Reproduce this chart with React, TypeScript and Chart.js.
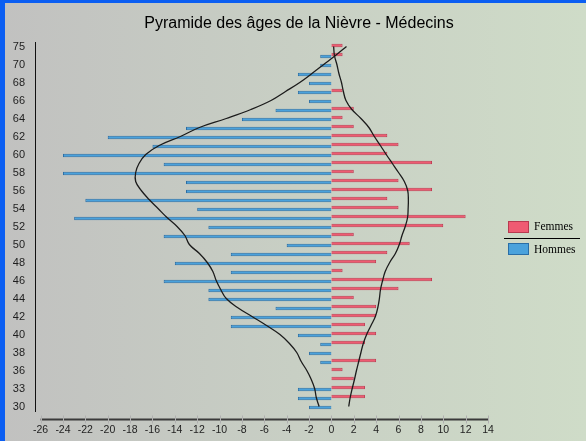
import React, { useEffect, useRef } from 'react';
import { Chart, registerables } from 'chart.js';

Chart.register(...registerables);

const chartTitle = 'Pyramide des âges de la Nièvre - Médecins';

// Age categories, top to bottom
const ages = ['75', '72', '70', '69', '68', '67', '66', '65', '64', '63', '62', '61', '60', '59', '58', '57', '56', '55', '54', '53', '52', '51', '50', '49', '48', '47', '46', '45', '44', '43', '42', '41', '40', '39', '38', '37', '36', '34', '33', '31', '30'];

const femmes = [1, 1, 0, 0, 0, 1, 0, 2, 1, 2, 5, 6, 5, 9, 2, 6, 9, 5, 6, 12, 10, 2, 7, 5, 4, 1, 9, 6, 2, 4, 4, 3, 4, 3, 0, 4, 1, 2, 3, 3, 0];

const hommes = [0, -1, -1, -3, -2, -3, -2, -5, -8, -13, -20, -16, -24, -15, -24, -13, -13, -22, -12, -23, -11, -15, -4, -9, -14, -9, -15, -11, -11, -5, -9, -9, -3, -1, -2, -1, 0, 0, -3, -3, -2];

const courbeHommes = [1.35, 0.36, -0.69, -1.74, -2.83, -4.1, -5.4, -7.2, -9.4, -11.8, -13.5, -15.4, -16.6, -17.2, -17.5, -17.5, -17.0, -16.3, -15.5, -14.7, -13.8, -13.1, -12.7, -11.8, -11.1, -10.6, -10.3, -9.9, -9.4, -8.4, -7.1, -5.8, -4.6, -3.75, -3.1, -2.7, -2.2, -1.8, -1.5, -1.35, -1.1];

const courbeFemmes = [0.2, 0.27, 0.49, 0.67, 0.9, 1.07, 1.3, 1.83, 2.64, 3.35, 3.84, 4.38, 4.9, 5.45, 6.0, 6.52, 6.82, 6.88, 6.86, 6.81, 6.6, 6.31, 6.07, 5.72, 5.21, 4.81, 4.58, 4.39, 4.29, 4.15, 3.93, 3.54, 3.15, 2.85, 2.64, 2.44, 2.24, 2.06, 1.86, 1.68, 1.55];

const xTicks = [-26, -24, -22, -20, -18, -16, -14, -12, -10, -8, -6, -4, -2, 0, 2, 4, 6, 8, 10, 12, 14];

const legendItems = ['Femmes', 'Hommes'];

const offsetXAxisPlugin = {
  id: 'offsetXAxis',
  afterDraw(chart: any) {
    const xs = chart.scales.x;
    const ctx = chart.ctx;
    const y = Math.round(xs.top + 8) + 0.5;
    const x0 = xs.getPixelForValue(xTicks[0]);
    const x1 = xs.getPixelForValue(xTicks[xTicks.length - 1]);
    ctx.save();
    ctx.strokeStyle = '#3a3a3a';
    ctx.lineWidth = 2;
    ctx.beginPath();
    ctx.moveTo(x0, y);
    ctx.lineTo(x1, y);
    ctx.stroke();
    ctx.strokeStyle = '#b0b0b0';
    ctx.lineWidth = 1;
    xTicks.forEach((v) => {
      const px = Math.round(xs.getPixelForValue(v)) + 0.5;
      ctx.beginPath();
      ctx.moveTo(px, y - 4);
      ctx.lineTo(px, y + 4);
      ctx.stroke();
    });
    ctx.restore();
  },
};

export default function App() {
  const ref = useRef<HTMLCanvasElement>(null);

  useEffect(() => {
    document.body.style.margin = '0';
    const chart = new Chart(ref.current as HTMLCanvasElement, {
      type: 'bar',
      data: {
        labels: ages,
        datasets: [
          {
            type: 'bar',
            label: legendItems[0],
            data: femmes,
            indexAxis: 'y',
            backgroundColor: '#ef5b72',
            borderColor: '#c03a52',
            borderWidth: 1,
            categoryPercentage: 0.444,
            barPercentage: 1.8,
            order: 2,
          } as any,
          {
            type: 'bar',
            label: legendItems[1],
            data: hommes,
            indexAxis: 'y',
            backgroundColor: '#4aa2dc',
            borderColor: '#2a6ea6',
            borderWidth: 1,
            categoryPercentage: 0.444,
            barPercentage: 1.8,
            order: 2,
          } as any,
          {
            type: 'line',
            label: 'Courbe Hommes',
            data: courbeHommes,
            indexAxis: 'y',
            borderColor: '#1c1c1c',
            borderWidth: 1.3,
            pointRadius: 0,
            tension: 0.4,
            fill: false,
            order: 0,
          } as any,
          {
            type: 'line',
            label: 'Courbe Femmes',
            data: courbeFemmes,
            indexAxis: 'y',
            borderColor: '#1c1c1c',
            borderWidth: 1.3,
            pointRadius: 0,
            tension: 0.4,
            fill: false,
            order: 0,
          } as any,
        ],
      },
      options: {
        indexAxis: 'y',
        animation: false,
        responsive: true,
        maintainAspectRatio: false,
        layout: { padding: { left: 13, right: 98, top: 42, bottom: 4 } },
        plugins: {
          legend: { display: false },
          title: { display: false },
          tooltip: { enabled: false },
        },
        scales: {
          x: {
            type: 'linear',
            min: -26.5,
            max: 14,
            afterBuildTicks: (axis: any) => {
              axis.ticks = xTicks.map((v) => ({ value: v }));
            },
            afterFit: (axis: any) => {
              axis.height = 26;
            },
            grid: { display: false, drawTicks: false },
            border: { display: false },
            ticks: {
              autoSkip: false,
              maxRotation: 0,
              padding: 13,
              color: '#1e1e1e',
              font: { family: 'Liberation Sans', size: 10.5 },
            },
          },
          y: {
            type: 'category',
            afterFit: (axis: any) => {
              axis.width = 22;
            },
            grid: { display: false, drawTicks: false },
            border: { display: true, color: '#111', width: 1, dash: [6, 2] },
            ticks: {
              autoSkip: false,
              padding: 10,
              color: '#1e1e1e',
              font: { family: 'Liberation Sans', size: 11 },
              callback: (_v: any, i: number) => (i % 2 === 0 ? ages[i] : ''),
            },
          },
        },
      } as any,
      plugins: [offsetXAxisPlugin],
    });
    return () => chart.destroy();
  }, []);

  return (
    <div
      style={{
        position: 'relative',
        width: 586,
        height: 441,
        overflow: 'hidden',
        background: 'linear-gradient(to right, #c1c1c0 0%, #c8cfc4 50%, #cfdcc8 100%)',
      }}
    >
      <div style={{ position: 'absolute', left: 0, top: 0, width: 586, height: 441 }}>
        <canvas ref={ref} />
      </div>
      <div
        style={{
          position: 'absolute',
          top: 13,
          left: 0,
          width: 598,
          textAlign: 'center',
          font: '16px "Liberation Sans", Arial, sans-serif',
          lineHeight: '20px',
          color: '#000',
        }}
      >
        {chartTitle}
      </div>
      <div style={{ position: 'absolute', left: 508, top: 221, width: 21, height: 12, boxSizing: 'border-box', background: '#ef5b72', border: '1px solid #b83a50' }} />
      <div style={{ position: 'absolute', left: 534, top: 218, font: '11.5px "Liberation Serif", serif', lineHeight: '16px', color: '#000' }}>{legendItems[0]}</div>
      <div style={{ position: 'absolute', left: 504, top: 238, width: 76, height: 1, background: '#000' }} />
      <div style={{ position: 'absolute', left: 508, top: 243, width: 21, height: 12, boxSizing: 'border-box', background: '#4aa2dc', border: '1px solid #2a6ea6' }} />
      <div style={{ position: 'absolute', left: 534, top: 241, font: '11.5px "Liberation Serif", serif', lineHeight: '16px', color: '#000' }}>{legendItems[1]}</div>
      <div style={{ position: 'absolute', left: 0, top: 0, width: 586, height: 3, background: '#0b5ef2' }} />
      <div style={{ position: 'absolute', left: 0, top: 0, width: 5, height: 441, background: '#0b5ef2' }} />
    </div>
  );
}
